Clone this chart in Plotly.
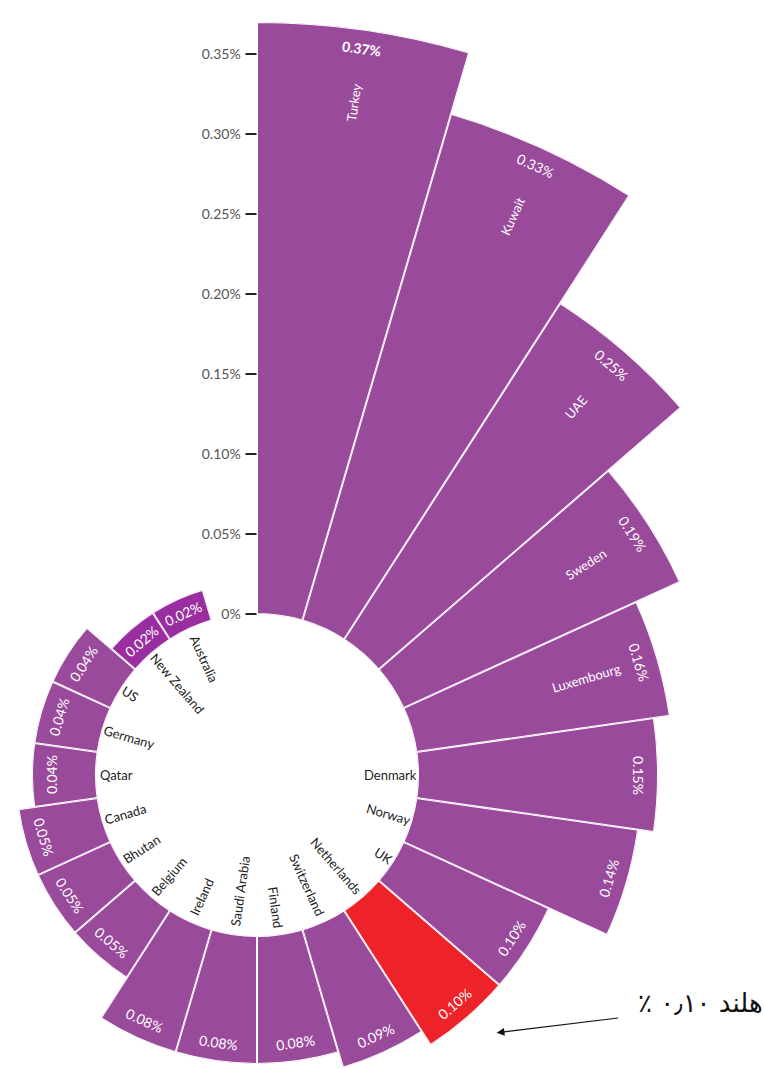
import math
import plotly.graph_objects as go

# ---------------- data ----------------
countries = ["Turkey", "Kuwait", "UAE", "Sweden", "Luxembourg", "Denmark", "Norway",
             "UK", "Netherlands", "Switzerland", "Finland", "Saudi Arabia", "Ireland",
             "Belgium", "Bhutan", "Canada", "Qatar", "Germany", "US", "New Zealand",
             "Australia"]
values = [0.37, 0.33, 0.25, 0.19, 0.16, 0.15, 0.14, 0.10, 0.10, 0.09, 0.08, 0.08,
          0.08, 0.05, 0.05, 0.05, 0.04, 0.04, 0.04, 0.02, 0.02]
highlight = "Netherlands"
radial_tick_vals = [0, 0.05, 0.10, 0.15, 0.20, 0.25, 0.30, 0.35]
radial_tick_text = ["0%", "0.05%", "0.10%", "0.15%", "0.20%", "0.25%", "0.30%", "0.35%"]
callout_text = "هلند ۰٫۱۰ ٪"
n_slots = 22          # 21 bars + one empty slot at the top

# ---------------- geometry / style ----------------
W, H = 765, 1069
CX, CY = 257.0, 775.0     # centre of the wheel (px)
HOLE = 161.0              # hole radius (px)
SCALE = 1600.0            # px per percentage point
SLOT = 360.0 / n_slots
PURPLE = "#9a4a9b"
PURPLE_SMALL = "#9a2ea0"
RED = "#ee2229"
FONT = "Lato, 'Liberation Sans', sans-serif"


def sector_bbox(a_lo, a_hi):
    xs = [0.0, math.cos(math.radians(a_lo)), math.cos(math.radians(a_hi))]
    ys = [0.0, math.sin(math.radians(a_lo)), math.sin(math.radians(a_hi))]
    for k in range(-8, 9):
        ang = 90 * k
        if a_lo <= ang <= a_hi:
            xs.append(math.cos(math.radians(ang)))
            ys.append(math.sin(math.radians(ang)))
    return min(xs), max(xs), min(ys), max(ys)


def clamp(v):
    return min(1.0, max(0.0, v))


def paper_xy(rpx, th):
    t = math.radians(th)
    x = CX + rpx * math.sin(t)
    y = CY - rpx * math.cos(t)
    return x / W, 1 - y / H


fig = go.Figure()
layout = {}
annotations = []

for i, (name, v) in enumerate(zip(countries, values)):
    sub = "polar" if i == 0 else f"polar{i + 1}"
    R = HOLE + v * SCALE
    cw0 = i * SLOT
    cw1 = cw0 + SLOT
    th = cw0 + SLOT / 2
    a_lo, a_hi = 90 - cw1, 90 - cw0
    bx0, bx1, by0, by1 = sector_bbox(a_lo, a_hi)
    dom_x = [clamp((CX + R * bx0) / W), clamp((CX + R * bx1) / W)]
    dom_y = [clamp(1 - (CY - R * by0) / H), clamp(1 - (CY - R * by1) / H)]

    if name == highlight:
        col = RED
    elif v <= 0.02:
        col = PURPLE_SMALL
    else:
        col = PURPLE
    fig.add_trace(go.Barpolar(
        r=[v], theta=[th], width=[SLOT], subplot=sub, name=name,
        marker=dict(color=col, line=dict(color="white", width=2)),
        hovertemplate=f"{name}: {v:.2f}%<extra></extra>",
        showlegend=False,
    ))

    radial = dict(range=[0, v], visible=False)
    if i == 0:
        radial = dict(
            range=[0, v], visible=True, angle=90, side="counterclockwise",
            tickmode="array", tickvals=radial_tick_vals, ticktext=radial_tick_text,
            ticks="outside", ticklen=11, tickwidth=2, tickcolor="#222",
            showline=False, showgrid=False, tickangle=90,
            tickfont=dict(family=FONT, size=14, color="#555"),
        )
    layout[sub] = dict(
        domain=dict(x=dom_x, y=dom_y),
        sector=[a_lo, a_hi],
        hole=HOLE / R,
        bgcolor="rgba(0,0,0,0)",
        radialaxis=radial,
        angularaxis=dict(visible=False, rotation=90, direction="clockwise",
                         showgrid=False, showline=False),
    )

    # value label (tangential, near the outer end)
    if th <= 90:
        rot_v = th
    elif th < 270:
        rot_v = th - 180
    else:
        rot_v = th - 360
    bar_len = v * SCALE
    r_lab = R - 19 if bar_len > 44 else R - bar_len / 2
    px, py = paper_xy(r_lab, th)
    annotations.append(dict(
        x=px, y=py, xref="paper", yref="paper",
        text=(f"<b>{v:.2f}%</b>" if i == 0 else f"{v:.2f}%"),
        showarrow=False, textangle=rot_v, xanchor="center", yanchor="middle",
        font=dict(family=FONT, size=14, color="white"),
    ))

    # country label
    if v >= 0.16:
        px, py = paper_xy(R - 74, th)
        annotations.append(dict(
            x=px, y=py, xref="paper", yref="paper", text=name,
            showarrow=False, textangle=th - 90, xanchor="center", yanchor="middle",
            font=dict(family=FONT, size=13, color="white"),
        ))
    else:
        est_len = len(name) * 6.6
        px, py = paper_xy(157 - est_len / 2, th)
        rot_n = th - 90 if th < 180 else th - 270
        annotations.append(dict(
            x=px, y=py, xref="paper", yref="paper", text=name,
            showarrow=False, textangle=rot_n, xanchor="center", yanchor="middle",
            font=dict(family=FONT, size=13, color="#222"),
        ))

# call-out arrow to the highlighted bar
hi = countries.index(highlight)
th_hi = hi * SLOT + SLOT / 2
hx, hy = paper_xy(HOLE + values[hi] * SCALE + 31, th_hi - 2)
annotations.append(dict(
    x=hx, y=hy, xref="paper", yref="paper", text="",
    showarrow=True, ax=123, ay=-15, arrowhead=2, arrowsize=1.3,
    arrowwidth=1.2, arrowcolor="#111",
))
annotations.append(dict(
    x=1.0, y=1 - 1003 / H, xref="paper", yref="paper",
    text="\u200f" + callout_text + "\u200f",
    showarrow=False, xanchor="right", yanchor="middle",
    font=dict(family="'DejaVu Sans', 'Noto Sans', sans-serif", size=26, color="#111"),
))

fig.update_layout(
    width=W, height=H,
    margin=dict(l=0, r=0, t=0, b=0),
    paper_bgcolor="white",
    plot_bgcolor="white",
    showlegend=False,
    annotations=annotations,
    **layout,
)

fig.write_html("out.html", config={"displayModeBar": False},
               post_script="document.body.style.margin='0';")
